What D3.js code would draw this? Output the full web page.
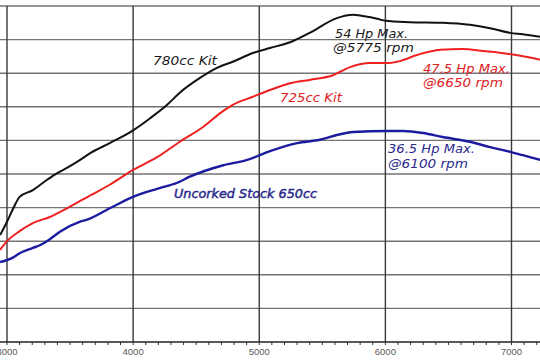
<!DOCTYPE html>
<html><head><meta charset="utf-8">
<script src="https://cdn.jsdelivr.net/npm/d3@7"></script>
<style>html,body{margin:0;padding:0;background:#fff;overflow:hidden}svg{display:block}</style>
</head><body>
<script>
// ---- data (rpm vs horsepower) ----
const rpm780 = [2945,3000,3050,3100,3205,3315,3395,3475,3580,3660,3815,4000,4135,4270,4370,4530,4665,4790,4950,5085,5245,5400,5615,5745,5820,5935,6000,6195,6455,6670,6830,6990,7090,7230];
const hp780  = [20.9,22.9,24.9,26.6,27.6,29.1,30.1,30.9,32.1,33.1,34.6,36.5,38.3,40.3,42.1,44.3,45.8,46.7,48.0,48.75,49.6,51.0,53.2,53.7,53.5,53.1,52.8,52.6,52.5,52.2,51.7,51.0,50.8,50.4];

const rpm725 = [2945,3000,3100,3205,3340,3475,3580,3680,3815,4000,4190,4370,4555,4715,4790,4950,5085,5245,5400,5585,5720,5880,6015,6115,6250,6435,6615,6775,6965,7125,7230];
const hp725  = [18.7,20.0,21.5,22.7,23.6,24.9,26.0,27.0,28.4,30.6,32.5,34.8,37.0,39.4,40.3,41.5,42.5,43.5,44.0,44.7,45.9,46.5,46.5,46.8,47.7,48.5,48.6,48.3,47.9,47.4,47.0];

const rpm650 = [2945,3050,3100,3205,3260,3340,3420,3580,3635,3815,4000,4190,4350,4450,4715,4905,5085,5300,5480,5615,5745,6015,6140,6300,6455,6670,6830,6990,7090,7230];
const hp650  = [16.9,17.6,18.2,19.0,19.4,20.3,21.4,22.9,23.2,24.9,26.6,27.8,28.7,29.6,31.3,32.1,33.4,34.6,35.1,35.8,36.25,36.4,36.4,36.1,35.5,34.8,34.0,33.3,32.8,32.1];

const xTickLabels = [3000,4000,5000,6000,7000];
const yGrid = [5,10,15,20,25,30,35,40,45,50,55];
const seriesNames = ["780cc Kit","725cc Kit","Uncorked Stock 650cc"];
const peakNotes = [["54 Hp Max.","@5775 rpm"],["47.5 Hp Max.","@6650 rpm"],["36.5 Hp Max.","@6100 rpm"]];

// ---- drawing ----
const W = 540, H = 360;
const svg = d3.select("body").append("svg").attr("width", W).attr("height", H);
const x = d3.scaleLinear().domain([3000, 7000]).range([7, 511.5]);
const y = d3.scaleLinear().domain([5, 55]).range([342, 6]);

// horizontal grid
svg.append("g").selectAll("line").data(yGrid.slice(1)).join("line")
  .attr("x1", 0).attr("x2", W)
  .attr("y1", d => y(d)).attr("y2", d => y(d))
  .attr("stroke", "#737373").attr("stroke-width", 1.4);

// vertical grid
svg.append("g").selectAll("line").data(xTickLabels).join("line")
  .attr("x1", d => x(d)).attr("x2", d => x(d))
  .attr("y1", y(55)).attr("y2", y(5))
  .attr("stroke", "#3a3a3a").attr("stroke-width", 1.4);

// bottom axis with minor ticks
const minor = d3.range(2900, 7300, 100);
const axisG = svg.append("g").attr("transform", `translate(0,${y(5)})`);
axisG.append("line").attr("x1", 0).attr("x2", W).attr("y1", 0).attr("y2", 0)
  .attr("stroke", "#222").attr("stroke-width", 1.6);
axisG.selectAll("line.minor").data(minor).join("line").attr("class","minor")
  .attr("x1", d => x(d)).attr("x2", d => x(d)).attr("y1", 0).attr("y2", 3)
  .attr("stroke", "#333").attr("stroke-width", 1);
axisG.selectAll("text").data(xTickLabels).join("text")
  .attr("x", d => x(d)).attr("y", 13)
  .attr("text-anchor", "middle")
  .attr("font-family", "Liberation Sans, Arial, sans-serif")
  .attr("font-size", 9.5).attr("fill", "#5a5a5a")
  .text(d => d);

// curves
const line = d3.line().x(d => x(d[0])).y(d => y(d[1])).curve(d3.curveMonotoneX);
const series = [
  {r: rpm780, h: hp780, color: "#111111", w: 2},
  {r: rpm725, h: hp725, color: "#ee2020", w: 2},
  {r: rpm650, h: hp650, color: "#1c1ca0", w: 2.4}
];
series.forEach(s => {
  svg.append("path").datum(s.r.map((v, i) => [v, s.h[i]]))
    .attr("fill", "none").attr("stroke", s.color).attr("stroke-width", s.w)
    .attr("stroke-linejoin", "round").attr("d", line);
});

// annotations
const font = "DejaVu Sans, Verdana, sans-serif";
function note(txt, px, py, len, color, heavy) {
  const t = svg.append("text").attr("x", px).attr("y", py)
    .attr("font-family", font).attr("font-style", "italic")
    .attr("font-size", 12).attr("fill", color)
    .attr("textLength", len).attr("lengthAdjust", "spacingAndGlyphs")
    .text(txt);
  if (heavy) t.attr("stroke", color).attr("stroke-width", 0.45);
}
note(seriesNames[0], 153, 64.5, 64, "#1a1a1a");
note(peakNotes[0][0], 335, 37.5, 73, "#1a1a1a");
note(peakNotes[0][1], 333, 51.5, 81, "#1a1a1a");
note(seriesNames[1], 280, 101.5, 62, "#e02020");
note(peakNotes[1][0], 423, 72.5, 87, "#e02020");
note(peakNotes[1][1], 423, 86.5, 80, "#e02020");
note(peakNotes[2][0], 388, 152.5, 87, "#2a2a8c");
note(peakNotes[2][1], 388, 167.5, 80, "#2a2a8c");
note(seriesNames[2], 174, 197.5, 143, "#2a2a8c", true);
</script>
</body></html>
